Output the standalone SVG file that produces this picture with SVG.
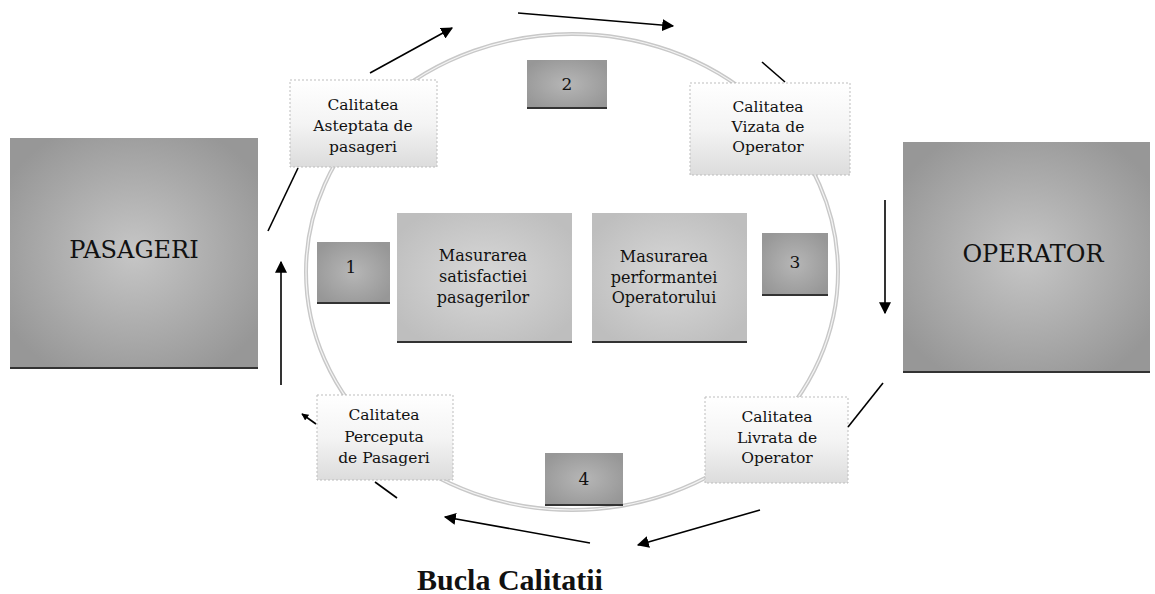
<svg xmlns="http://www.w3.org/2000/svg" width="1155" height="594" viewBox="0 0 1155 594">
<defs>
<radialGradient id="gBig" cx="0.5" cy="0.5" r="0.6">
<stop offset="0" stop-color="#c6c6c6"/><stop offset="1" stop-color="#979797"/>
</radialGradient>
<radialGradient id="gMid" cx="0.5" cy="0.5" r="0.6">
<stop offset="0" stop-color="#d8d8d8"/><stop offset="1" stop-color="#bebebe"/>
</radialGradient>
<radialGradient id="gNum" cx="0.5" cy="0.5" r="0.6">
<stop offset="0" stop-color="#b6b6b6"/><stop offset="1" stop-color="#979797"/>
</radialGradient>
<linearGradient id="gCal" x1="0" y1="0" x2="0" y2="1">
<stop offset="0" stop-color="#ffffff"/><stop offset="0.5" stop-color="#f4f4f4"/><stop offset="1" stop-color="#dcdcdc"/>
</linearGradient>
<marker id="ah" viewBox="0 0 10 10" refX="9" refY="5" markerWidth="7" markerHeight="7" orient="auto" markerUnits="userSpaceOnUse">
<path d="M0,0 L10,5 L0,10 z" fill="#000"/>
</marker>
<marker id="ahB" viewBox="0 0 10 10" refX="9" refY="5" markerWidth="12" markerHeight="12" orient="auto" markerUnits="userSpaceOnUse">
<path d="M0,0 L10,5 L0,10 z" fill="#000"/>
</marker>
</defs>
<style>
text{font-family:"DejaVu Serif","Liberation Serif",serif;fill:#111;text-anchor:middle}
.big{font-size:24px}
.t{font-size:15.5px}
.m{font-size:16px}
.n{font-size:17px}
.cal{fill:url(#gCal);stroke:#bdbdbd;stroke-width:1;stroke-dasharray:2 2}
.bigbox{fill:url(#gBig)}
.midbox{fill:url(#gMid)}
.numbox{fill:url(#gNum)}
.shadow{stroke:#333;stroke-width:2}
.c{stroke:#000;stroke-width:1.6;fill:none}
.title{font-family:"Liberation Serif",serif;font-size:30px;font-weight:bold}
</style>
<rect width="1155" height="594" fill="#fff"/>
<g id="loop">
<ellipse cx="572" cy="272" rx="266" ry="238" fill="none" stroke="#c8c8c8" stroke-width="4"/>
<ellipse cx="572" cy="272" rx="266" ry="238" fill="none" stroke="#f4f4f4" stroke-width="1.2"/>
</g>
<g id="pasageri">
<rect x="10" y="138" width="248" height="230" class="bigbox"/>
<line x1="10" y1="368" x2="258" y2="368" class="shadow"/>
<text x="134" y="258" class="big">PASAGERI</text>
</g>
<g id="operator">
<rect x="903" y="142" width="247" height="230" class="bigbox"/>
<line x1="903" y1="372" x2="1150" y2="372" class="shadow"/>
<text x="1033" y="262" class="big">OPERATOR</text>
</g>
<g id="cal-asteptata">
<rect x="290" y="80" width="147" height="87" class="cal"/>
<text x="363" y="110" class="t">Calitatea</text>
<text x="363" y="131" class="t">Asteptata de</text>
<text x="363" y="152" class="t">pasageri</text>
</g>
<g id="cal-vizata">
<rect x="690" y="83" width="160" height="92" class="cal"/>
<text x="768" y="112" class="t">Calitatea</text>
<text x="768" y="132" class="t">Vizata de</text>
<text x="768" y="152" class="t">Operator</text>
</g>
<g id="cal-perceputa">
<rect x="317" y="395" width="136" height="85" class="cal"/>
<text x="384" y="420" class="t">Calitatea</text>
<text x="384" y="442" class="t">Perceputa</text>
<text x="384" y="463" class="t">de Pasageri</text>
</g>
<g id="cal-livrata">
<rect x="705" y="397" width="143" height="86" class="cal"/>
<text x="777" y="422" class="t">Calitatea</text>
<text x="777" y="443" class="t">Livrata de</text>
<text x="777" y="463" class="t">Operator</text>
</g>
<g id="mas-satisfactie">
<rect x="397" y="213" width="175" height="129" class="midbox"/>
<line x1="397" y1="342" x2="572" y2="342" class="shadow"/>
<text x="483" y="261" class="m">Masurarea</text>
<text x="483" y="282" class="m">satisfactiei</text>
<text x="483" y="303" class="m">pasagerilor</text>
</g>
<g id="mas-performanta">
<rect x="592" y="213" width="155" height="129" class="midbox"/>
<line x1="592" y1="342" x2="747" y2="342" class="shadow"/>
<text x="664" y="262" class="m">Masurarea</text>
<text x="664" y="283" class="m">performantei</text>
<text x="664" y="303" class="m">Operatorului</text>
</g>
<g id="n1">
<rect x="317" y="242" width="73" height="61" class="numbox"/>
<line x1="317" y1="303" x2="390" y2="303" class="shadow"/>
<text x="351" y="273" class="n">1</text>
</g>
<g id="n2">
<rect x="527" y="60" width="80" height="48" class="numbox"/>
<line x1="527" y1="108" x2="607" y2="108" class="shadow"/>
<text x="567" y="90" class="n">2</text>
</g>
<g id="n3">
<rect x="762" y="233" width="66" height="62" class="numbox"/>
<line x1="762" y1="295" x2="828" y2="295" class="shadow"/>
<text x="795" y="268" class="n">3</text>
</g>
<g id="n4">
<rect x="545" y="453" width="78" height="52" class="numbox"/>
<line x1="545" y1="505" x2="623" y2="505" class="shadow"/>
<text x="584" y="485" class="n">4</text>
</g>
<g id="connectors">
<line x1="370" y1="73" x2="452" y2="28" class="c" marker-end="url(#ahB)"/>
<line x1="518" y1="13" x2="673" y2="26" class="c" marker-end="url(#ahB)"/>
<line x1="762" y1="62" x2="785" y2="82" class="c"/>
<line x1="885" y1="200" x2="885" y2="313" class="c" marker-end="url(#ahB)"/>
<line x1="883" y1="383" x2="848" y2="427" class="c"/>
<line x1="760" y1="510" x2="638" y2="545" class="c" marker-end="url(#ahB)"/>
<line x1="590" y1="543" x2="445" y2="517" class="c" marker-end="url(#ahB)"/>
<line x1="397" y1="498" x2="375" y2="482" class="c"/>
<line x1="316" y1="424" x2="302" y2="414" class="c" marker-end="url(#ah)"/>
<line x1="281" y1="385" x2="281" y2="262" class="c" marker-end="url(#ahB)"/>
<line x1="268" y1="231" x2="298" y2="168" class="c"/>
</g>
<text x="510" y="590" class="title">Bucla Calitatii</text>
</svg>
